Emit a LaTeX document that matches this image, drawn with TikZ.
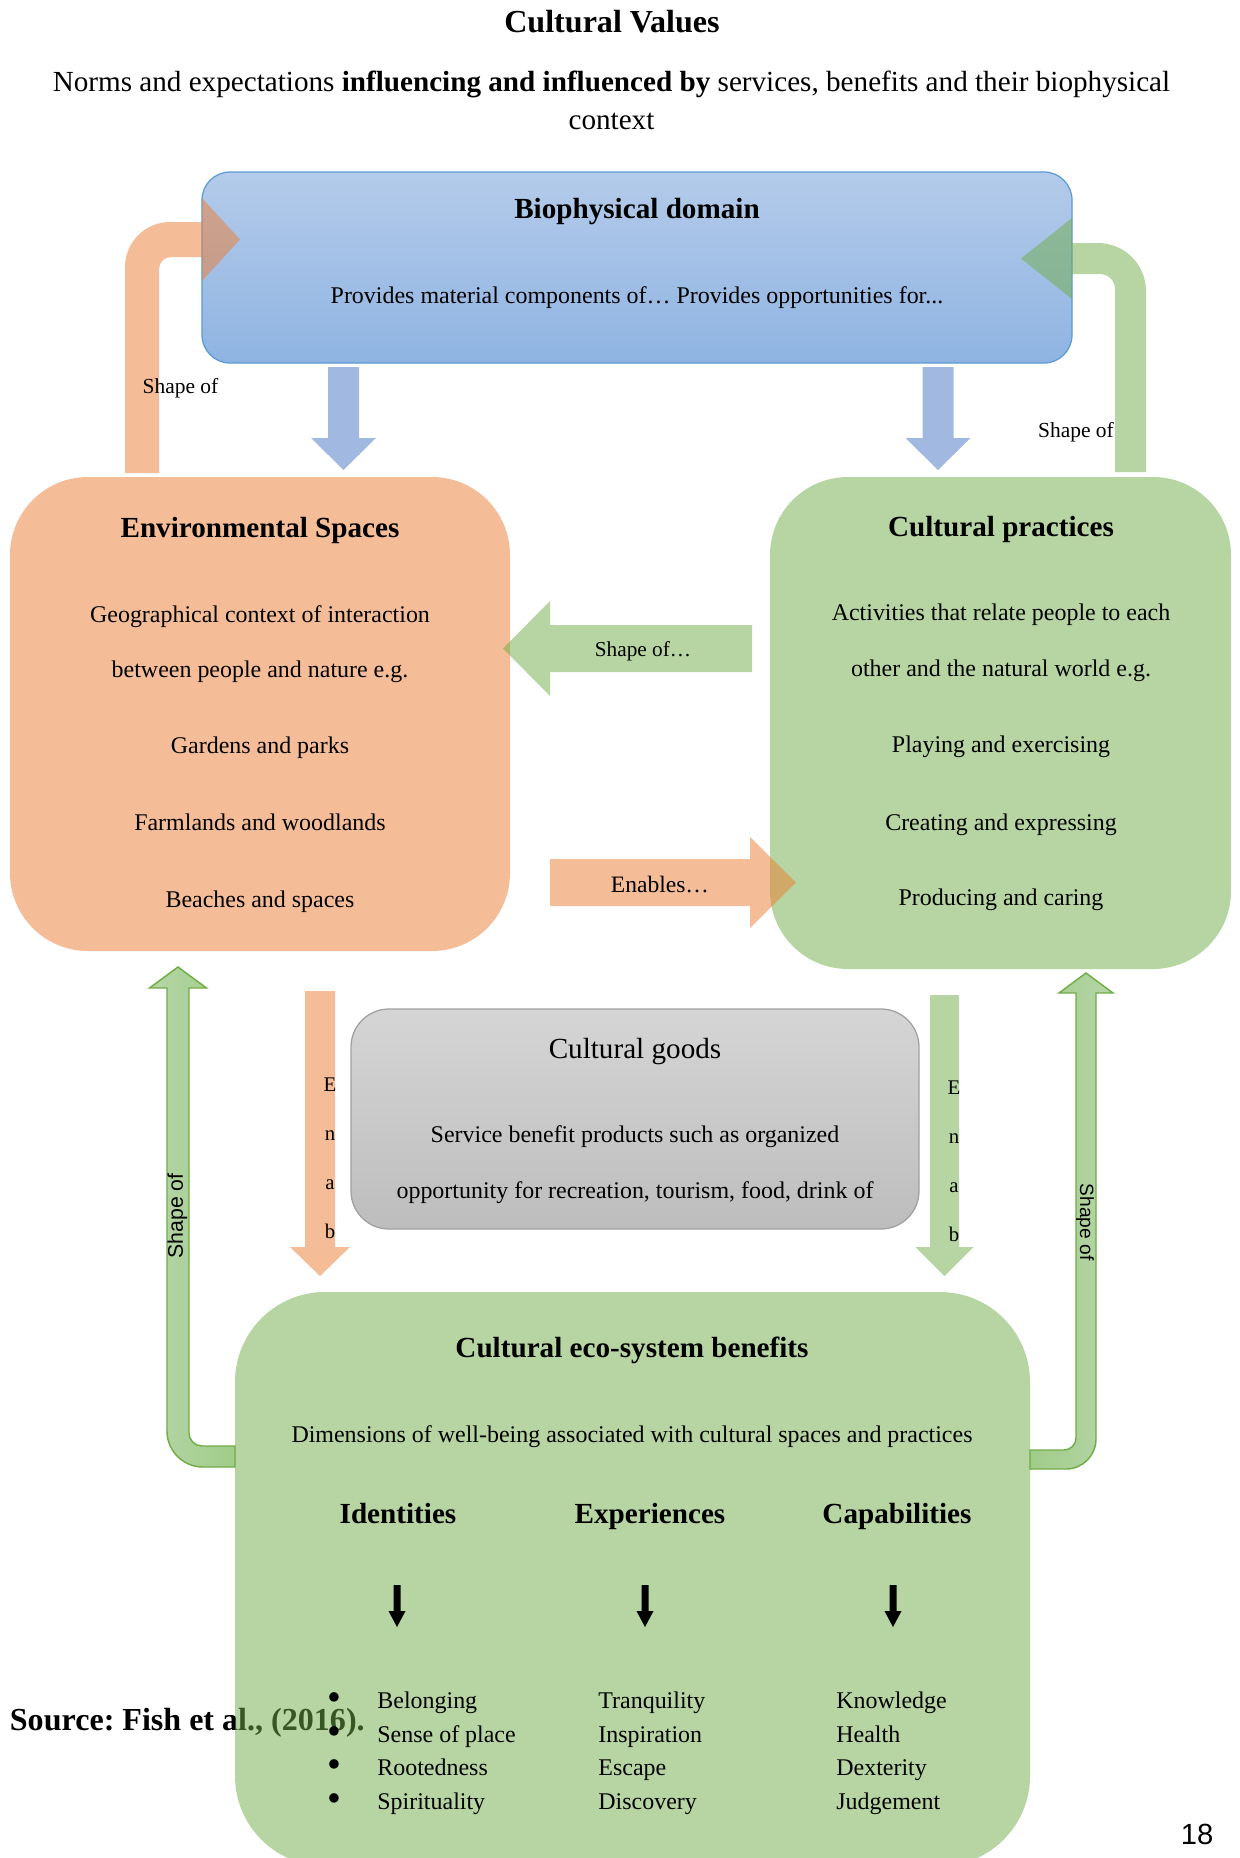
\documentclass[tikz,border=0pt]{standalone}
\usepackage{fontspec}
\setmainfont{Liberation Serif}
\newfontfamily\sansfam{Liberation Sans}
\usetikzlibrary{positioning}
\frenchspacing
\newlength{\pxu}
\setlength{\pxu}{0.4802pt}
\definecolor{accOrange}{RGB}{237,125,49}
\definecolor{accGreen}{RGB}{112,173,71}
\definecolor{accBlue}{RGB}{68,114,196}
\definecolor{bioTop}{RGB}{180,203,234}
\definecolor{bioBottom}{RGB}{143,180,226}
\definecolor{bioLine}{RGB}{91,155,213}
\definecolor{goodsTop}{RGB}{213,213,213}
\definecolor{goodsBottom}{RGB}{189,189,189}
\definecolor{goodsLine}{RGB}{160,160,160}
\definecolor{bendLight}{RGB}{182,213,167}
\definecolor{bendDark}{RGB}{160,204,137}
\newcommand{\cvtitle}{\fontsize{15.4}{18}\selectfont\bfseries}
\newcommand{\cvhead}{\fontsize{14}{17}\selectfont\bfseries}
\newcommand{\cvsub}{\fontsize{14}{17}\selectfont}
\newcommand{\cvbody}{\fontsize{11.5}{14}\selectfont}
\newcommand{\cvsmall}{\fontsize{10.3}{12}\selectfont}
\tikzset{
  txt/.style={inner sep=0pt, text height=0.86em, text depth=0pt},
  head/.style={txt, font=\cvhead},
  body/.style={txt, font=\cvbody},
  bulletmark/.style={inner sep=0pt, font=\fontsize{19}{19}\selectfont},
  bigbox/.style={inner sep=0pt, fill opacity=0.5, rounded corners=78\pxu},
  softarrow/.style={fill opacity=0.5},
  bentarrow/.style={draw=accGreen, line width=0.7pt},
  shadebox/.style={inner sep=0pt, line width=0.6pt},
}
\begin{document}
\begin{tikzpicture}[x=\pxu, y=-\pxu]
\useasboundingbox (0,0) rectangle (1239,1858);
\fill[white] (0,0) rectangle (1239,1858);

% heading
\node[txt, font=\cvtitle] (title) at (612,24) {Cultural Values};
\node[txt, font=\cvsub] (subOne) at (611.5,83) {Norms and expectations \textbf{influencing and influenced by} services, benefits and their biophysical};
\node[txt, font=\cvsub] (subTwo) at (611.5,121) {context};

% biophysical domain
\node[shadebox, minimum width=870\pxu, minimum height=191\pxu, rounded corners=28\pxu,
  top color=bioTop, bottom color=bioBottom, draw=bioLine] (bio) at (637,267.5) {};
\fill[softarrow, fill=accBlue] (328,367) -- (359,367) -- (359,438) -- (376,438)
  -- (343.5,470) -- (311,438) -- (328,438) -- cycle;
\fill[softarrow, fill=accBlue] (922.5,367) -- (953.5,367) -- (953.5,438) -- (970.5,438)
  -- (938,470) -- (905.5,438) -- (922.5,438) -- cycle;
\fill[softarrow, fill=accOrange] (125,473) -- (125,267) arc[start angle=180, end angle=270, radius=45]
  -- (202,222) -- (202,198) -- (240,239.5) -- (202,281) -- (202,257) -- (171,257)
  arc[start angle=270, end angle=180, radius=12] -- (159,473) -- cycle;
\fill[softarrow, fill=accGreen] (1146,472) -- (1146,291) arc[start angle=0, end angle=-90, radius=48]
  -- (1072,243) -- (1072,218) -- (1021,258.5) -- (1072,299) -- (1072,274) -- (1100,274)
  arc[start angle=-90, end angle=0, radius=15] -- (1115,472) -- cycle;
\node[head] (bioTitle) at (637,210) {Biophysical domain};
\node[body] (bioText) at (637,295) {Provides material components of… Provides opportunities for...};
\node[txt, font=\cvsmall] (shapeTL) at (180.5,385) {Shape of};
\node[txt, font=\cvsmall] (shapeTR) at (1076,429) {Shape of};

% spaces and practices
\node[bigbox, fill=accOrange, minimum width=500\pxu, minimum height=474\pxu] (env) at (260,714) {};
\node[bigbox, fill=accGreen, minimum width=461\pxu, minimum height=492\pxu] (prac) at (1000.5,723) {};
\fill[softarrow, fill=accGreen] (752,625) -- (752,672) -- (550,672) -- (550,696)
  -- (503,648.5) -- (550,601) -- (550,625) -- cycle;
\fill[softarrow, fill=accOrange] (550,859) -- (750,859) -- (750,837) -- (796,882.5)
  -- (750,928) -- (750,906) -- (550,906) -- cycle;
\node[txt, font=\fontsize{10.2}{12}\selectfont] (shapeMid) at (643,648) {Shape of…};
\node[txt, font=\fontsize{11.3}{13}\selectfont] (enablesMid) at (660,884) {Enables…};

\node[head] (envTitle) at (260,529) {Environmental Spaces};
\node[body] (envOne) at (260,614) {Geographical context of interaction};
\node[body] (envTwo) at (260,669) {between people and nature e.g.};
\node[body] (envThree) at (260,745) {Gardens and parks};
\node[body] (envFour) at (260,822) {Farmlands and woodlands};
\node[body] (envFive) at (260,899) {Beaches and spaces};

\node[head] (pracTitle) at (1001,528) {Cultural practices};
\node[body] (pracOne) at (1001,612) {Activities that relate people to each};
\node[body] (pracTwo) at (1001,668) {other and the natural world e.g.};
\node[body] (pracThree) at (1001,744) {Playing and exercising};
\node[body] (pracFour) at (1001,822) {Creating and expressing};
\node[body] (pracFive) at (1001,897) {Producing and caring};

% cultural goods
\node[shadebox, minimum width=568\pxu, minimum height=220\pxu, rounded corners=38\pxu,
  top color=goodsTop, bottom color=goodsBottom, draw=goodsLine] (goods) at (635,1119) {};
\node[txt, font=\cvsub] (goodsTitle) at (635,1050) {Cultural goods};
\node[body] (goodsOne) at (635,1134) {Service benefit products such as organized};
\node[body] (goodsTwo) at (635,1190) {opportunity for recreation, tourism, food, drink of};

\fill[softarrow, fill=accOrange] (305,991) -- (335,991) -- (335,1247) -- (350,1247)
  -- (320,1276) -- (290,1247) -- (305,1247) -- cycle;
\fill[softarrow, fill=accGreen] (930,995) -- (959,995) -- (959,1247) -- (973.5,1247)
  -- (944.5,1276) -- (915.5,1247) -- (930,1247) -- cycle;
\foreach \ch [count=\i] in {E,n,a,b} {
  \node[txt, font=\fontsize{10}{12}\selectfont] (enL-\i) at (330,{1083+49*(\i-1)}) {\ch};
  \node[txt, font=\fontsize{10}{12}\selectfont] (enR-\i) at (954,{1086+49*(\i-1)}) {\ch};
}

% bent arrows to the benefits
\path[bentarrow, left color=bendLight, right color=bendDark] (235,1446) -- (202,1446)
  arc[start angle=90, end angle=180, radius=13] -- (189,988) -- (206.5,988) -- (178,967)
  -- (149.5,988) -- (167,988) -- (167,1431) arc[start angle=180, end angle=90, radius=36]
  -- (235,1467) -- cycle;
\path[bentarrow, left color=bendDark, right color=bendLight] (1030,1450) -- (1064,1450)
  arc[start angle=90, end angle=0, radius=12] -- (1076,993) -- (1059,993) -- (1086,973)
  -- (1113,993) -- (1096,993) -- (1096,1439) arc[start angle=0, end angle=90, radius=30]
  -- (1030,1469) -- cycle;
\node[txt, font=\sansfam\fontsize{10.2}{12}\selectfont, rotate=90] (shapeBL) at (174,1216) {Shape of};
\node[txt, font=\sansfam\fontsize{9.2}{11}\selectfont, rotate=-90] (shapeBR) at (1089,1222) {Shape of};

% source, under the benefits box
\node[txt, font=\cvtitle, anchor=west] (source) at (9.5,1722) {Source: Fish et al., (2016).};

% cultural eco-system benefits
\node[bigbox, fill=accGreen, rounded corners=90\pxu, minimum width=795\pxu, minimum height=574\pxu] (eco) at (632.5,1579) {};
\node[head] (ecoTitle) at (632,1349) {Cultural eco-system benefits};
\node[body] (ecoText) at (632,1434) {Dimensions of well-being associated with cultural spaces and practices};
\node[head] (identities) at (398,1515) {Identities};
\node[head] (experiences) at (650,1515) {Experiences};
\node[head] (capabilities) at (897,1515) {Capabilities};
\foreach \ax in {397,645,893}
  \fill ({\ax-3.5},1585) -- ({\ax+3.5},1585) -- ({\ax+3.5},1611) -- ({\ax+8.5},1611)
    -- (\ax,1627) -- ({\ax-8.5},1611) -- ({\ax-3.5},1611) -- cycle;
\foreach \w [count=\i] in {Belonging, Sense of place, Rootedness, Spirituality} {
  \node[bulletmark] (bul-\i) at (334,{1702+33.5*(\i-1)}) {\textbullet};
  \node[body, anchor=west] (ident-\i) at (377,{1700+33.5*(\i-1)}) {\w};
}
\foreach \w [count=\i] in {Tranquility, Inspiration, Escape, Discovery}
  \node[body, anchor=west] (exper-\i) at (598,{1700+33.5*(\i-1)}) {\w};
\foreach \w [count=\i] in {Knowledge, Health, Dexterity, Judgement}
  \node[body, anchor=west] (capab-\i) at (836,{1700+33.5*(\i-1)}) {\w};

\node[txt, font=\sansfam\fontsize{14}{16}\selectfont] (pageno) at (1197,1836) {18};
\end{tikzpicture}
\end{document}
